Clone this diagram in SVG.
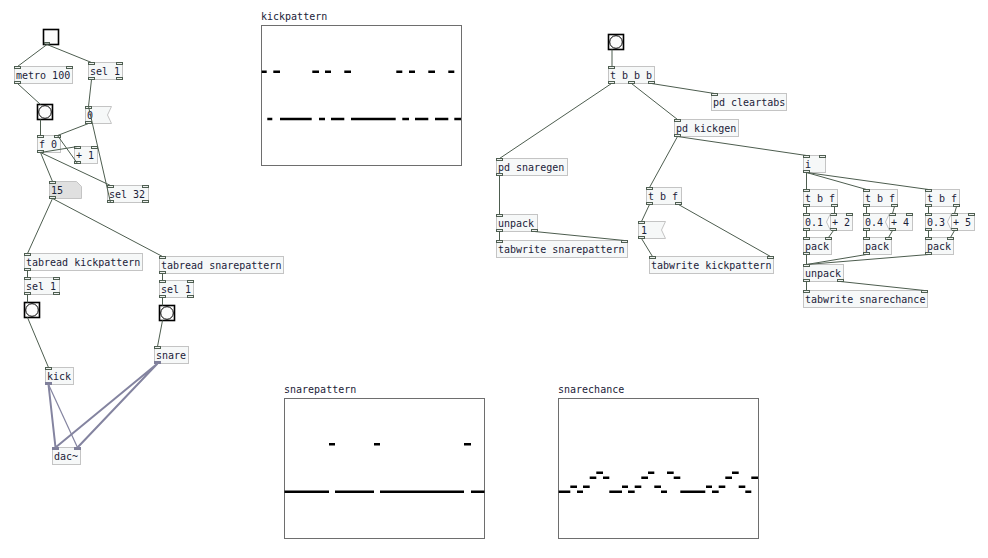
<svg xmlns="http://www.w3.org/2000/svg" width="988" height="558" viewBox="0 0 988 558">
<style>
.bg{fill:#ffffff}
.box{fill:#f6f8f8;stroke:#c4c4c4;stroke-width:1}
.num{fill:#e0e0e0;stroke:#c4c4c4;stroke-width:1}
.io{fill:#eef0ee;stroke:#4f5f52;stroke-width:1}
.sio{fill:#7f7f9a;stroke:#7f7f9a;stroke-width:1}
.t{font-family:"DejaVu Sans Mono","Liberation Mono",monospace;font-size:10px;fill:#1b2238}
.c{stroke:#4d5d4f;stroke-width:1;fill:none}
.s{stroke:#8484a0;stroke-width:2;fill:none}
.gui{fill:#fcfcfc;stroke:#000;stroke-width:1.6}
.ring{fill:none;stroke:#000;stroke-width:1}
.arr{fill:#ffffff;stroke:#6e6e6e;stroke-width:1}
.pts{stroke:#000;stroke-width:2.4;fill:none}
</style>
<rect class="bg" x="0" y="0" width="988" height="558"/>

<!-- arrays -->
<g id="kickpattern">
<text class="t" x="261" y="20">kickpattern</text>
<rect class="arr" x="261.5" y="25.5" width="200" height="140"/>
<path class="pts" d="M261.7 71.7H266.7M273.3 71.7H280M312.3 71.7H319M325 71.7H331M344.3 71.7H351M396.3 71.7H402.3M409 71.7H415M428.3 71.7H435M448.3 71.7H454.3"/>
<path class="pts" d="M267.3 119H272.3M280 119H311.7M319 119H325M331 119H344.3M351 119H395.7M402.3 119H409M415 119H428.3M435 119H448.3M454.3 119H461"/>
</g>
<g id="snarepattern">
<text class="t" x="284" y="393">snarepattern</text>
<rect class="arr" x="284.5" y="398.5" width="200" height="140"/>
<path class="pts" d="M329 444.3H335M374 444.3H380M464 444.3H471"/>
<path class="pts" d="M284.5 491.7H329M335 491.7H374M380 491.7H464M471 491.7H484.5"/>
</g>
<g id="snarechance">
<text class="t" x="558" y="393">snarechance</text>
<rect class="arr" x="558.5" y="398.5" width="200" height="140"/>
<path class="pts" d="M558.7 491.7H570.3M577 491.7H583M609.3 491.7H622M628 491.7H634.7M661 491.7H667M680.3 491.7H705.3M712 491.7H718.7M745.3 491.7H751.3"/>
<path class="pts" d="M570.3 486.7H577M583 486.7H589.7M622 486.7H628M634.7 486.7H641.3M654.3 486.7H661M706 486.7H712M718.7 486.7H725.3M738.7 486.7H745.3"/>
<path class="pts" d="M589.7 477.7H596.3M603 477.7H609.3M641.3 477.7H648M673.7 477.7H680.3M725.3 477.7H732M751.3 477.7H758"/>
<path class="pts" d="M596.3 472.7H603M648 472.7H654.3M667 472.7H673.7M732 472.7H738.7"/>
</g>

<!-- nodes -->
<g id="toggle">
<rect class="gui" x="43.5" y="29.5" width="15" height="15"/>
<rect class="io" x="44.5" y="42.5" width="5" height="1.5"/>
</g>
<g id="metro">
<rect class="box" x="14.5" y="66.5" width="58" height="17"/>
<text class="t" x="16" y="79">metro 100</text>
<rect class="io" x="14.5" y="66.5" width="6" height="2"/><rect class="io" x="66.5" y="66.5" width="6" height="2"/>
<rect class="io" x="14.5" y="81.5" width="6" height="2"/>
</g>
<g id="sel1top">
<rect class="box" x="88.5" y="62.5" width="34" height="17"/>
<text class="t" x="90" y="75">sel 1</text>
<rect class="io" x="88.5" y="62.5" width="6" height="2"/><rect class="io" x="116.5" y="62.5" width="6" height="2"/>
<rect class="io" x="88.5" y="77.5" width="6" height="2"/><rect class="io" x="116.5" y="77.5" width="6" height="2"/>
</g>
<g id="bang1">
<rect class="gui" x="37.5" y="104.5" width="15" height="15"/>
<circle class="ring" cx="45" cy="112" r="6.3"/>
</g>
<g id="msg0">
<polygon class="box" points="85.5,106.5 111.5,106.5 107.5,115 111.5,123.5 85.5,123.5"/>
<text class="t" x="87" y="119">0</text>
<rect class="io" x="85.5" y="106.5" width="6" height="2"/><rect class="io" x="85.5" y="121.5" width="6" height="2"/>
</g>
<g id="f0">
<rect class="box" x="37.5" y="135.5" width="23" height="17"/>
<text class="t" x="39" y="148">f 0</text>
<rect class="io" x="37.5" y="135.5" width="6" height="2"/><rect class="io" x="54.5" y="135.5" width="6" height="2"/>
<rect class="io" x="37.5" y="150.5" width="6" height="2"/>
</g>
<g id="plus1">
<rect class="box" x="74.5" y="146.5" width="23" height="17"/>
<text class="t" x="76" y="159">+ 1</text>
<rect class="io" x="74.5" y="146.5" width="6" height="2"/><rect class="io" x="91.5" y="146.5" width="6" height="2"/>
<rect class="io" x="74.5" y="161.5" width="6" height="2"/>
</g>
<g id="num15">
<polygon class="num" points="49.5,181.5 76.5,181.5 81.5,186.5 81.5,198.5 49.5,198.5"/>
<text class="t" x="51" y="194">15</text>
<rect class="io" x="49.5" y="181.5" width="6" height="2"/><rect class="io" x="49.5" y="196.5" width="6" height="2"/>
</g>
<g id="sel32">
<rect class="box" x="107.5" y="185.5" width="41" height="17"/>
<text class="t" x="109" y="198">sel 32</text>
<rect class="io" x="107.5" y="185.5" width="6" height="2"/><rect class="io" x="142.5" y="185.5" width="6" height="2"/>
<rect class="io" x="107.5" y="200.5" width="6" height="2"/><rect class="io" x="142.5" y="200.5" width="6" height="2"/>
</g>
<g id="tabreadkick">
<rect class="box" x="24.5" y="253.5" width="118" height="17"/>
<text class="t" x="26" y="266">tabread kickpattern</text>
<rect class="io" x="24.5" y="253.5" width="6" height="2"/><rect class="io" x="24.5" y="268.5" width="6" height="2"/>
</g>
<g id="sel1kick">
<rect class="box" x="24.5" y="277.5" width="35" height="17"/>
<text class="t" x="26" y="290">sel 1</text>
<rect class="io" x="24.5" y="277.5" width="6" height="2"/><rect class="io" x="53.5" y="277.5" width="6" height="2"/>
<rect class="io" x="24.5" y="292.5" width="6" height="2"/><rect class="io" x="53.5" y="292.5" width="6" height="2"/>
</g>
<g id="bangkick">
<rect class="gui" x="24.5" y="302.5" width="15" height="15"/>
<circle class="ring" cx="32" cy="310" r="6.3"/>
</g>
<g id="kick">
<rect class="box" x="45.5" y="367.5" width="28" height="17"/>
<text class="t" x="47" y="380">kick</text>
<rect class="io" x="45.5" y="367.5" width="6" height="2"/>
<rect class="sio" x="45.5" y="382.5" width="6" height="2"/>
</g>
<g id="dac">
<rect class="box" x="52.5" y="447.5" width="28" height="17"/>
<text class="t" x="54" y="460">dac~</text>
<rect class="sio" x="52.5" y="447.5" width="6" height="2"/><rect class="sio" x="74.5" y="447.5" width="6" height="2"/>
</g>
<g id="tabreadsnare">
<rect class="box" x="159.5" y="256.5" width="124" height="17"/>
<text class="t" x="161" y="269">tabread snarepattern</text>
<rect class="io" x="159.5" y="256.5" width="6" height="2"/><rect class="io" x="159.5" y="271.5" width="6" height="2"/>
</g>
<g id="sel1snare">
<rect class="box" x="159.5" y="280.5" width="34" height="17"/>
<text class="t" x="161" y="293">sel 1</text>
<rect class="io" x="159.5" y="280.5" width="6" height="2"/><rect class="io" x="187.5" y="280.5" width="6" height="2"/>
<rect class="io" x="159.5" y="295.5" width="6" height="2"/><rect class="io" x="187.5" y="295.5" width="6" height="2"/>
</g>
<g id="bangsnare">
<rect class="gui" x="159.5" y="305.5" width="15" height="15"/>
<circle class="ring" cx="167" cy="313" r="6.3"/>
</g>
<g id="snare">
<rect class="box" x="154.5" y="346.5" width="34" height="17"/>
<text class="t" x="156" y="359">snare</text>
<rect class="io" x="154.5" y="346.5" width="6" height="2"/>
<rect class="sio" x="154.5" y="361.5" width="6" height="2"/>
</g>

<g id="bangright">
<rect class="gui" x="608.5" y="34.5" width="15" height="15"/>
<circle class="ring" cx="616" cy="42" r="6.3"/>
</g>
<g id="tbbb">
<rect class="box" x="608.5" y="66.5" width="46" height="17"/>
<text class="t" x="610" y="79">t b b b</text>
<rect class="io" x="608.5" y="66.5" width="6" height="2"/>
<rect class="io" x="608.5" y="81.5" width="6" height="2"/><rect class="io" x="628.5" y="81.5" width="6" height="2"/><rect class="io" x="648.5" y="81.5" width="6" height="2"/>
</g>
<g id="cleartabs">
<rect class="box" x="711.5" y="93.5" width="75" height="17"/>
<text class="t" x="713" y="106">pd cleartabs</text>
<rect class="io" x="711.5" y="93.5" width="6" height="2"/>
</g>
<g id="kickgen">
<rect class="box" x="674.5" y="119.5" width="64" height="17"/>
<text class="t" x="676" y="132">pd kickgen</text>
<rect class="io" x="674.5" y="119.5" width="6" height="2"/><rect class="io" x="674.5" y="134.5" width="6" height="2"/>
</g>
<g id="snaregen">
<rect class="box" x="496.5" y="158.5" width="71" height="17"/>
<text class="t" x="498" y="171">pd snaregen</text>
<rect class="io" x="496.5" y="158.5" width="6" height="2"/><rect class="io" x="496.5" y="173.5" width="6" height="2"/>
</g>
<g id="unpackL">
<rect class="box" x="496.5" y="214.5" width="41" height="17"/>
<text class="t" x="498" y="227">unpack</text>
<rect class="io" x="496.5" y="214.5" width="6" height="2"/>
<rect class="io" x="496.5" y="229.5" width="6" height="2"/><rect class="io" x="531.5" y="229.5" width="6" height="2"/>
</g>
<g id="tabwritesp">
<rect class="box" x="496.5" y="240.5" width="131" height="17"/>
<text class="t" x="498" y="253">tabwrite snarepattern</text>
<rect class="io" x="496.5" y="240.5" width="6" height="2"/><rect class="io" x="621.5" y="240.5" width="6" height="2"/>
</g>
<g id="tbfK">
<rect class="box" x="646.5" y="187.5" width="35" height="17"/>
<text class="t" x="648" y="200">t b f</text>
<rect class="io" x="646.5" y="187.5" width="6" height="2"/>
<rect class="io" x="646.5" y="202.5" width="6" height="2"/><rect class="io" x="675.5" y="202.5" width="6" height="2"/>
</g>
<g id="msg1">
<polygon class="box" points="638.5,221.5 665.5,221.5 661.5,230 665.5,238.5 638.5,238.5"/>
<text class="t" x="641" y="234">1</text>
<rect class="io" x="638.5" y="221.5" width="6" height="2"/><rect class="io" x="638.5" y="236.5" width="6" height="2"/>
</g>
<g id="tabwritekp">
<rect class="box" x="649.5" y="256.5" width="124" height="17"/>
<text class="t" x="651" y="269">tabwrite kickpattern</text>
<rect class="io" x="649.5" y="256.5" width="6" height="2"/><rect class="io" x="767.5" y="256.5" width="6" height="2"/>
</g>
<g id="i">
<rect class="box" x="803.5" y="155.5" width="22" height="17"/>
<text class="t" x="805" y="168">i</text>
<rect class="io" x="803.5" y="155.5" width="6" height="2"/><rect class="io" x="819.5" y="155.5" width="6" height="2"/>
<rect class="io" x="803.5" y="170.5" width="6" height="2"/>
</g>
<g id="tbf1">
<rect class="box" x="803.5" y="189.5" width="34" height="17"/>
<text class="t" x="805" y="202">t b f</text>
<rect class="io" x="803.5" y="189.5" width="6" height="2"/>
<rect class="io" x="803.5" y="204.5" width="6" height="2"/><rect class="io" x="831.5" y="204.5" width="6" height="2"/>
</g>
<g id="tbf2">
<rect class="box" x="863.5" y="189.5" width="34" height="17"/>
<text class="t" x="865" y="202">t b f</text>
<rect class="io" x="863.5" y="189.5" width="6" height="2"/>
<rect class="io" x="863.5" y="204.5" width="6" height="2"/><rect class="io" x="891.5" y="204.5" width="6" height="2"/>
</g>
<g id="tbf3">
<rect class="box" x="925.5" y="189.5" width="34" height="17"/>
<text class="t" x="927" y="202">t b f</text>
<rect class="io" x="925.5" y="189.5" width="6" height="2"/>
<rect class="io" x="925.5" y="204.5" width="6" height="2"/><rect class="io" x="953.5" y="204.5" width="6" height="2"/>
</g>
<g id="plus2">
<rect class="box" x="830.5" y="213.5" width="22" height="17"/>
<text class="t" x="832" y="226">+ 2</text>
<rect class="io" x="830.5" y="213.5" width="6" height="2"/><rect class="io" x="846.5" y="213.5" width="6" height="2"/>
<rect class="io" x="830.5" y="228.5" width="6" height="2"/>
</g>
<g id="msg01">
<polygon class="box" points="803.5,213.5 830.5,213.5 826.5,222 830.5,230.5 803.5,230.5"/>
<text class="t" x="805" y="226">0.1</text>
<rect class="io" x="803.5" y="213.5" width="6" height="2"/><rect class="io" x="803.5" y="228.5" width="6" height="2"/>
</g>
<g id="plus4">
<rect class="box" x="889.5" y="213.5" width="23" height="17"/>
<text class="t" x="891" y="226">+ 4</text>
<rect class="io" x="889.5" y="213.5" width="6" height="2"/><rect class="io" x="906.5" y="213.5" width="6" height="2"/>
<rect class="io" x="889.5" y="228.5" width="6" height="2"/>
</g>
<g id="msg04">
<polygon class="box" points="863.5,213.5 889.5,213.5 885.5,222 889.5,230.5 863.5,230.5"/>
<text class="t" x="865" y="226">0.4</text>
<rect class="io" x="863.5" y="213.5" width="6" height="2"/><rect class="io" x="863.5" y="228.5" width="6" height="2"/>
</g>
<g id="plus5">
<rect class="box" x="951.5" y="213.5" width="23" height="17"/>
<text class="t" x="953" y="226">+ 5</text>
<rect class="io" x="951.5" y="213.5" width="6" height="2"/><rect class="io" x="968.5" y="213.5" width="6" height="2"/>
<rect class="io" x="951.5" y="228.5" width="6" height="2"/>
</g>
<g id="msg03">
<polygon class="box" points="925.5,213.5 951.5,213.5 947.5,222 951.5,230.5 925.5,230.5"/>
<text class="t" x="927" y="226">0.3</text>
<rect class="io" x="925.5" y="213.5" width="6" height="2"/><rect class="io" x="925.5" y="228.5" width="6" height="2"/>
</g>
<g id="pack1">
<rect class="box" x="803.5" y="237.5" width="28" height="17"/>
<text class="t" x="805" y="250">pack</text>
<rect class="io" x="803.5" y="237.5" width="6" height="2"/><rect class="io" x="825.5" y="237.5" width="6" height="2"/>
<rect class="io" x="803.5" y="252.5" width="6" height="2"/>
</g>
<g id="pack2">
<rect class="box" x="863.5" y="237.5" width="28" height="17"/>
<text class="t" x="865" y="250">pack</text>
<rect class="io" x="863.5" y="237.5" width="6" height="2"/><rect class="io" x="885.5" y="237.5" width="6" height="2"/>
<rect class="io" x="863.5" y="252.5" width="6" height="2"/>
</g>
<g id="pack3">
<rect class="box" x="925.5" y="237.5" width="28" height="17"/>
<text class="t" x="927" y="250">pack</text>
<rect class="io" x="925.5" y="237.5" width="6" height="2"/><rect class="io" x="947.5" y="237.5" width="6" height="2"/>
<rect class="io" x="925.5" y="252.5" width="6" height="2"/>
</g>
<g id="unpackR">
<rect class="box" x="803.5" y="264.5" width="40" height="17"/>
<text class="t" x="805" y="277">unpack</text>
<rect class="io" x="803.5" y="264.5" width="6" height="2"/>
<rect class="io" x="803.5" y="279.5" width="6" height="2"/><rect class="io" x="837.5" y="279.5" width="6" height="2"/>
</g>
<g id="tabwritesc">
<rect class="box" x="803.5" y="290.5" width="124" height="17"/>
<text class="t" x="805" y="303">tabwrite snarechance</text>
<rect class="io" x="803.5" y="290.5" width="6" height="2"/><rect class="io" x="921.5" y="290.5" width="6" height="2"/>
</g>

<!-- connectors -->
<g id="connectors">
<path class="c" d="M47 44.5L17.5 66.5M47 44.5L91.5 62.5M17.5 83.5L40.5 104.5M91.5 79.5L88.5 106.5M40.5 119.5L40.5 135.5M88.5 123.5L57.5 135.5M40.5 152.5L77.5 146.5M77.5 163.5L57.5 135.5M40.5 152.5L52.5 181.5M40.5 152.5L110.5 185.5M110.5 202.5L88.5 106.5M52.5 198.5L27.5 253.5M52.5 198.5L162.5 256.5M27.5 270.5V277.5M27.5 294.5V302.5M27.5 317.5L48.5 367.5M162.5 273.5V280.5M162.5 297.5V305.5M162.5 320.5L157.5 346.5"/>
<path class="c" d="M612 49.5V66.5M611.5 83.5L499.5 158.5M631.5 83.5L677.5 119.5M651.5 83.5L714.5 93.5M677.5 136.5L649.5 187.5M677.5 136.5L806.5 155.5M499.5 175.5V214.5M499.5 231.5V240.5M534.5 231.5L624.5 240.5M649.5 204.5L641.5 221.5M678.5 204.5L770.5 256.5M641.5 238.5L652.5 256.5"/>
<path class="c" d="M806.5 172.5V189.5M806.5 172.5L866.5 189.5M806.5 172.5L928.5 189.5M806.5 206.5V213.5M834.5 206.5V213.5M806.5 230.5V237.5M833.5 230.5L828.5 237.5M866.5 206.5V213.5M894.5 206.5L892.5 213.5M866.5 230.5V237.5M892.5 230.5L888.5 237.5M928.5 206.5V213.5M956.5 206.5L954.5 213.5M928.5 230.5V237.5M954.5 230.5L950.5 237.5M806.5 254.5V264.5M866.5 254.5L806.5 264.5M928.5 254.5L806.5 264.5M806.5 281.5V290.5M840.5 281.5L924.5 290.5"/>
<path class="s" d="M48.5 384.5L55.5 447.5M157.5 363.5L55.5 447.5M157.5 363.5L77.5 447.5"/>
<path class="s" style="stroke-width:1.2" d="M48.5 384.5L77.5 447.5"/>
</g>
</svg>
